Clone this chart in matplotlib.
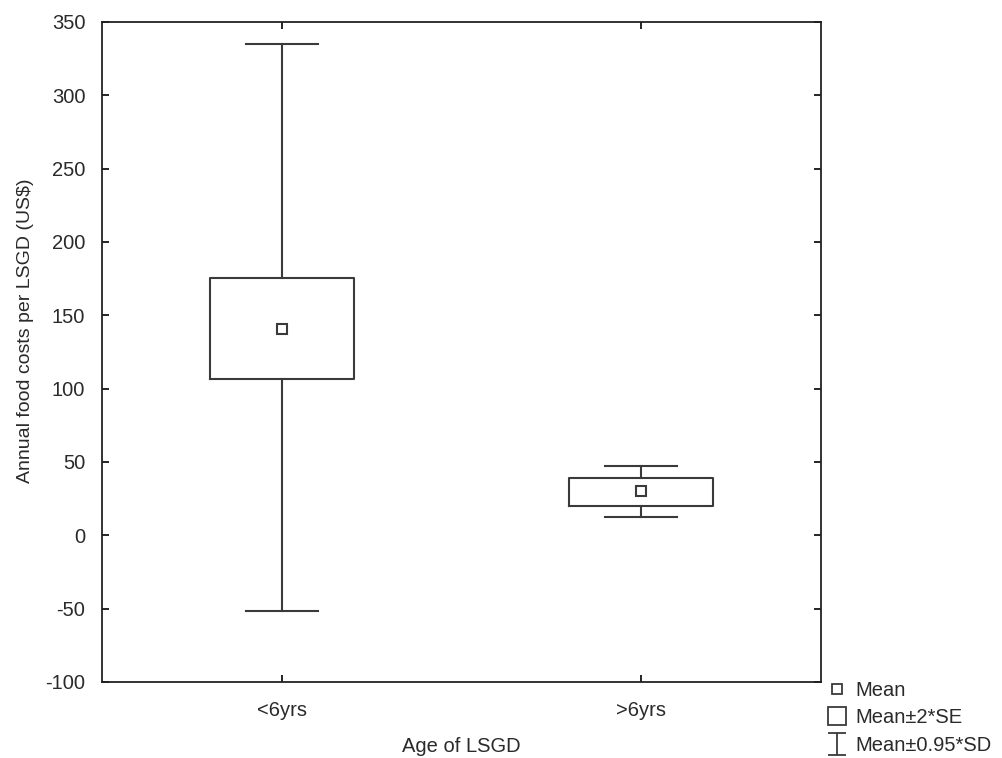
import matplotlib
matplotlib.use('Agg')
import matplotlib.pyplot as plt
from matplotlib.lines import Line2D
from matplotlib.path import Path

plt.rcParams['font.family'] = ['Liberation Sans', 'DejaVu Sans']
plt.rcParams['axes.unicode_minus'] = False

# food costs per age group (US$)
groups = ['<6yrs', '>6yrs']
means = [140.7, 30.4]
se2_low = [106.4, 20.2]     # mean - 2*SE
se2_high = [175.2, 39.3]    # mean + 2*SE
sd_low = [-51.6, 12.3]      # mean - 0.95*SD
sd_high = [334.8, 47.5]     # mean + 0.95*SD

stats = []
for i in range(len(groups)):
    stats.append({'label': groups[i], 'mean': means[i], 'med': means[i],
                  'q1': se2_low[i], 'q3': se2_high[i],
                  'whislo': sd_low[i], 'whishi': sd_high[i], 'fliers': []})

lc = '#3a3a3a'
txt = '#2a2a2a'
fs = 14.5

fig = plt.figure(figsize=(10.02, 7.58), dpi=100)
ax = fig.add_axes([0.1018, 0.1003, 0.7176, 0.8707])

ax.bxp(stats, positions=[0, 1], widths=0.4, capwidths=0.2, showmeans=True,
       boxprops=dict(color=lc, linewidth=1.5),
       whiskerprops=dict(color=lc, linewidth=1.5),
       capprops=dict(color=lc, linewidth=1.5),
       medianprops=dict(visible=False),
       meanprops=dict(marker='s', markersize=7, markerfacecolor='white',
                      markeredgecolor=lc, markeredgewidth=1.5))

ax.set_xlim(-0.5, 1.5)
ax.set_ylim(-100, 350)
ax.set_yticks(range(-100, 351, 50))
ax.set_xticks([0, 1])
ax.set_xticklabels(groups)
ax.tick_params(direction='in', length=5, width=1.2, top=True, right=True,
               labelsize=fs, labelcolor=txt)
ax.tick_params(axis='x', pad=14)
ax.tick_params(axis='y', pad=12)
for s in ax.spines.values():
    s.set_linewidth(1.3)
    s.set_color('#222222')

ax.set_xlabel('Age of LSGD', fontsize=fs, color=txt, labelpad=12)
ax.set_ylabel('Annual food costs per LSGD (US$)', fontsize=14, color=txt)
ax.yaxis.set_label_coords(-0.095, 0.532)

# I-beam symbol for the SD range
ibeam = Path([(-0.85, -1), (0.85, -1), (0, -1), (0, 1), (-0.85, 1), (0.85, 1)],
             [Path.MOVETO, Path.LINETO, Path.MOVETO, Path.LINETO, Path.MOVETO, Path.LINETO])
handles = [
    Line2D([], [], linestyle='none', marker='s', markersize=6.5, markerfacecolor='white',
           markeredgecolor=lc, markeredgewidth=1.3),
    Line2D([], [], linestyle='none', marker='s', markersize=13, markerfacecolor='white',
           markeredgecolor=lc, markeredgewidth=1.3),
    Line2D([], [], linestyle='none', marker=ibeam, markersize=16, markerfacecolor='none',
           markeredgecolor=lc, markeredgewidth=1.3),
]
labels = ['Mean', 'Mean±2*SE', 'Mean±0.95*SD']
fig.legend(handles, labels, loc='upper left', bbox_to_anchor=(0.825, 0.102),
           frameon=False, fontsize=fs, handlelength=1.0, handletextpad=0.45,
           labelspacing=0.42, borderpad=0, borderaxespad=0, labelcolor=txt)

fig.savefig('out.png', dpi=100, facecolor='white')
